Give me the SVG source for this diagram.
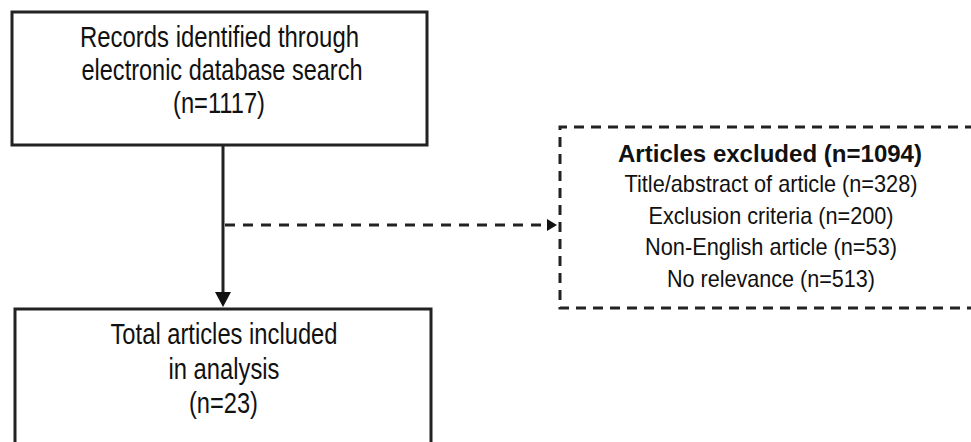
<svg xmlns="http://www.w3.org/2000/svg" width="971" height="442" viewBox="0 0 971 442">
<style>
.box{fill:#fff;stroke:#222;stroke-width:3}
.dbox{fill:#fff;stroke:#222;stroke-width:3;stroke-dasharray:10 7}
.t{font-family:"Liberation Sans",Arial,sans-serif;fill:#111;text-anchor:middle}
.big{font-size:29px}
.sm{font-size:24px}
.b{font-weight:bold}
.line{stroke:#222;stroke-width:3;fill:none}
.dline{stroke:#222;stroke-width:3;fill:none;stroke-dasharray:10 8}
</style>
<rect width="971" height="442" fill="#fff"/>
<g id="connectors">
<path class="line" d="M223,145 V297"/>
<path d="M215,292 L231,292 L223,307 z" fill="#111"/>
<path class="dline" d="M225,225 H548"/>
<path d="M547,219 L557,225 L547,231 z" fill="#111"/>
</g>
<g id="records">
<rect class="box" x="12" y="12" width="415" height="133"/>
<text class="t big" x="219.5" y="47" textLength="279" lengthAdjust="spacingAndGlyphs">Records identified through</text>
<text class="t big" x="222" y="80" textLength="281" lengthAdjust="spacingAndGlyphs">electronic database search</text>
<text class="t big" x="219" y="113" textLength="92" lengthAdjust="spacingAndGlyphs">(n=1117)</text>
</g>
<g id="excluded">
<path class="dbox" d="M975,127 H560 V308 H975"/>
<text class="t sm b" x="770" y="162" textLength="304" lengthAdjust="spacingAndGlyphs">Articles excluded (n=1094)</text>
<text class="t sm" x="771" y="192" textLength="293" lengthAdjust="spacingAndGlyphs">Title/abstract of article (n=328)</text>
<text class="t sm" x="771" y="224" textLength="245" lengthAdjust="spacingAndGlyphs">Exclusion criteria (n=200)</text>
<text class="t sm" x="771" y="255" textLength="252" lengthAdjust="spacingAndGlyphs">Non-English article (n=53)</text>
<text class="t sm" x="771" y="287" textLength="208" lengthAdjust="spacingAndGlyphs">No relevance (n=513)</text>
</g>
<g id="included">
<rect class="box" x="15" y="309" width="416" height="140"/>
<text class="t big" x="224" y="344" textLength="227" lengthAdjust="spacingAndGlyphs">Total articles included</text>
<text class="t big" x="224" y="379" textLength="111" lengthAdjust="spacingAndGlyphs">in analysis</text>
<text class="t big" x="223.5" y="413" textLength="69" lengthAdjust="spacingAndGlyphs">(n=23)</text>
</g>
</svg>
